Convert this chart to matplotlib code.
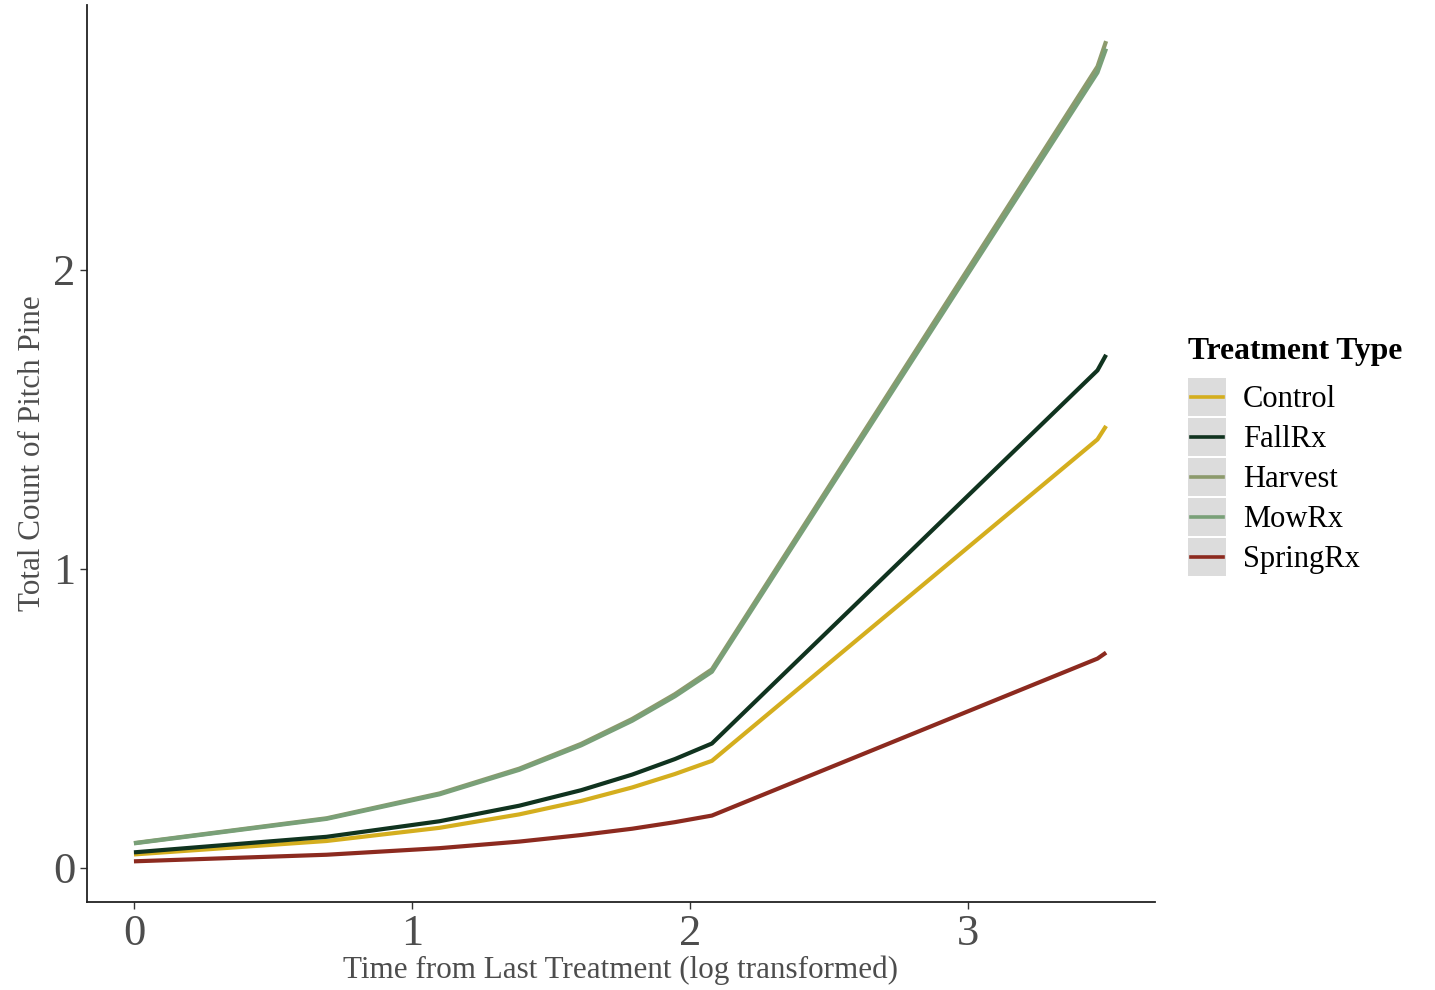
import numpy as np
import matplotlib
matplotlib.use("Agg")
import matplotlib.pyplot as plt
from matplotlib.patches import Rectangle
from matplotlib.lines import Line2D
from matplotlib.legend_handler import HandlerBase

plt.rcParams['font.family'] = ['Liberation Serif', 'DejaVu Serif']

# time since last treatment, already log transformed
log_time = [0.0, 0.693, 1.099, 1.386, 1.609, 1.792, 1.946, 2.079, 3.466, 3.497]

treatments = ["Control", "FallRx", "Harvest", "MowRx", "SpringRx"]
control = [0.045, 0.090, 0.134, 0.179, 0.224, 0.269, 0.314, 0.358, 1.433, 1.478]
fallrx = [0.052, 0.104, 0.156, 0.208, 0.260, 0.312, 0.364, 0.416, 1.664, 1.716]
harvest = [0.083, 0.166, 0.249, 0.332, 0.415, 0.498, 0.581, 0.664, 2.680, 2.765]
mowrx = [0.082, 0.164, 0.246, 0.328, 0.410, 0.492, 0.574, 0.656, 2.660, 2.740]
springrx = [0.022, 0.044, 0.066, 0.088, 0.110, 0.131, 0.153, 0.175, 0.700, 0.720]

colors = ["#d4ae1e", "#10331f", "#8c9a6c", "#79a078", "#8c2a1f"]
series = [control, fallrx, harvest, mowrx, springrx]


class KeyHandler(HandlerBase):
    # ggplot style key: grey box with a line through it
    def create_artists(self, legend, orig_handle, xdescent, ydescent,
                       width, height, fontsize, trans):
        box = Rectangle((-xdescent, -ydescent), width, height,
                        facecolor="#dcdcdc", edgecolor="none", transform=trans)
        y = -ydescent + height / 2
        ln = Line2D([-xdescent + 2, -xdescent + width - 2], [y, y],
                    color=orig_handle.get_color(), lw=2.6, transform=trans)
        return [box, ln]


fig = plt.figure(figsize=(14.35, 9.9), dpi=100)
ax = fig.add_axes([0.0606, 0.0889, 0.7443, 0.9061])

handles = []
for name, vals, c in zip(treatments, series, colors):
    h, = ax.plot(log_time, vals, color=c, lw=3, label=name, solid_capstyle="butt")
    handles.append(h)

ax.set_xlim(-0.169, 3.673)
ax.set_ylim(-0.114, 2.886)
ax.set_xticks([0, 1, 2, 3])
ax.set_yticks([0, 1, 2])
ax.tick_params(axis="both", labelsize=32, labelcolor="#4d4d4d", color="#333333",
               length=5, width=1)
for s in ["top", "right"]:
    ax.spines[s].set_visible(False)
for s in ["left", "bottom"]:
    ax.spines[s].set_linewidth(1.3)
    ax.spines[s].set_color("#222222")

ax.set_xlabel("Time from Last Treatment (log transformed)", fontsize=22.4,
              color="#4d4d4d", labelpad=1)
ax.set_ylabel("Total Count of Pitch Pine", fontsize=22.4, color="#4d4d4d", labelpad=4)

leg = fig.legend(handles, treatments, handler_map={Line2D: KeyHandler()},
                 loc="upper left", bbox_to_anchor=(1188 / 1435, 1 - 337 / 990),
                 frameon=False, fontsize=22, title="Treatment Type",
                 title_fontproperties={"weight": "bold", "size": 22.8},
                 handlelength=1.24, handleheight=1.536, labelspacing=0.065,
                 handletextpad=0.55, borderpad=0, borderaxespad=0)
leg._legend_box.align = "left"
leg._legend_box.sep = 8.6  # space between title and keys

fig.savefig("out.png", dpi=100)
